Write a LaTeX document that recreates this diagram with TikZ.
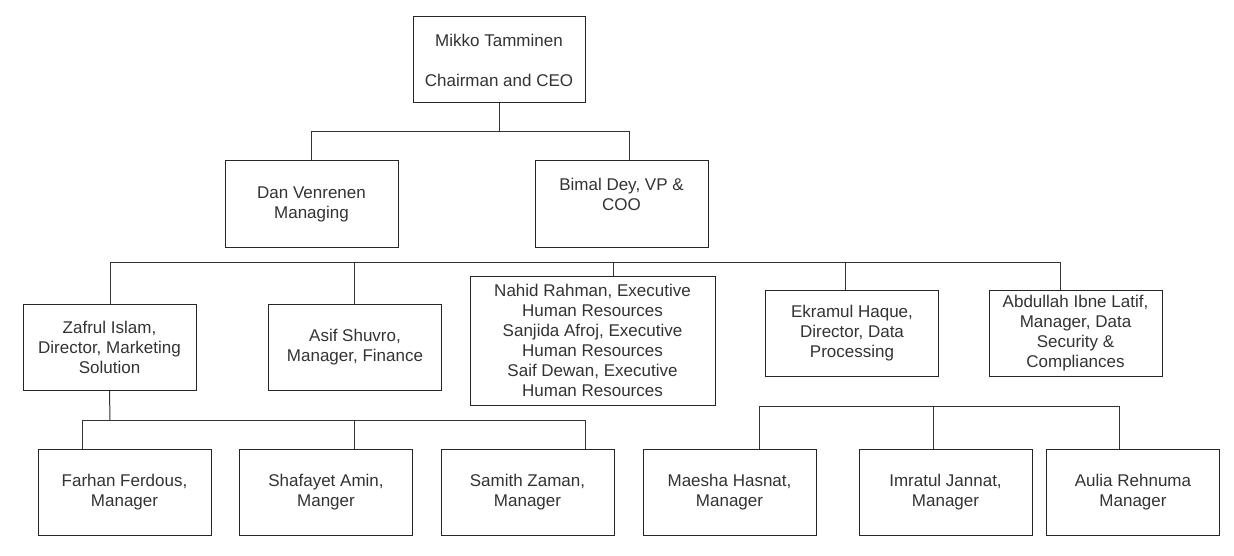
\documentclass[tikz,border=0pt]{standalone}
\usepackage{fontspec}
\setmainfont{Liberation Sans}
\begin{document}
\begin{tikzpicture}[x=1pt,y=-1pt,
    post/.style={draw=black!85, line width=1pt, fill=white, align=center, text=black!80,
      minimum width=173pt, minimum height=86pt, inner sep=0pt,
      font=\fontsize{17}{20}\selectfont},
    wire/.style={draw=black!80, line width=1pt}]
  \useasboundingbox (0,0) rectangle (1234,556);
  % top two levels
  \node[post, minimum width=172pt] (ceo) at (499,60) {Mikko Tamminen\\[20pt]Chairman and CEO};
  \node[post] (dan) at (311.5,204) {Dan Venrenen\\Managing};
  \node[post] (bimal) at (621.5,204) {Bimal Dey, VP \&\\COO\\\mbox{}};
  % third level
  \node[post] (zafrul) at (109.5,347.5) {Zafrul Islam,\\Director, Marketing\\Solution};
  \node[post] (asif) at (355,347.5) {Asif Shuvro,\\Manager, Finance};
  \node[post, minimum width=245pt, minimum height=129pt] (nahid) at (592.5,340.5)
    {Nahid Rahman, Executive\\Human Resources\\Sanjida Afroj, Executive\\Human Resources\\Saif Dewan, Executive\\Human Resources};
  \node[post] (ekramul) at (852,333.5) {Ekramul Haque,\\Director, Data\\Processing};
  \node[post] (abdullah) at (1075.5,333.5) {Abdullah Ibne Latif,\\Manager, Data\\Security \&\\Compliances};
  % bottom level
  \node[post] (farhan) at (124.5,492) {Farhan Ferdous,\\Manager};
  \node[post] (shafayet) at (326,492) {Shafayet Amin,\\Manger};
  \node[post] (samith) at (527.5,492) {Samith Zaman,\\Manager};
  \node[post] (maesha) at (729.5,492) {Maesha Hasnat,\\Manager};
  \node[post] (imratul) at (945.5,492) {Imratul Jannat,\\Manager};
  \node[post] (aulia) at (1133,492) {Aulia Rehnuma\\Manager};

  \coordinate (top) at (499,132);
  \draw[wire] (ceo.south) -- (top);
  \draw[wire] (dan.north) |- (top);
  \draw[wire] (top) -| (629,0 |- bimal.north);

  \draw[wire] (110,262) -- (1060,262);
  \foreach \n/\x in {zafrul/110, asif/354, nahid/613, ekramul/845, abdullah/1060}
    \draw[wire] (\x,262) -- (\x,0 |- \n.north);

  \draw[wire] (zafrul.south) -- (110,420);
  \draw[wire] (82,420) -- (585,420);
  \foreach \n/\x in {farhan/82, shafayet/354, samith/585}
    \draw[wire] (\x,420) -- (\x,0 |- \n.north);

  \draw[wire] (759,406) -- (1119,406);
  \foreach \n/\x in {maesha/759, imratul/933, aulia/1119}
    \draw[wire] (\x,406) -- (\x,0 |- \n.north);
  % \draw[wire] (ekramul.south) -- (852,406);
\end{tikzpicture}
\end{document}
